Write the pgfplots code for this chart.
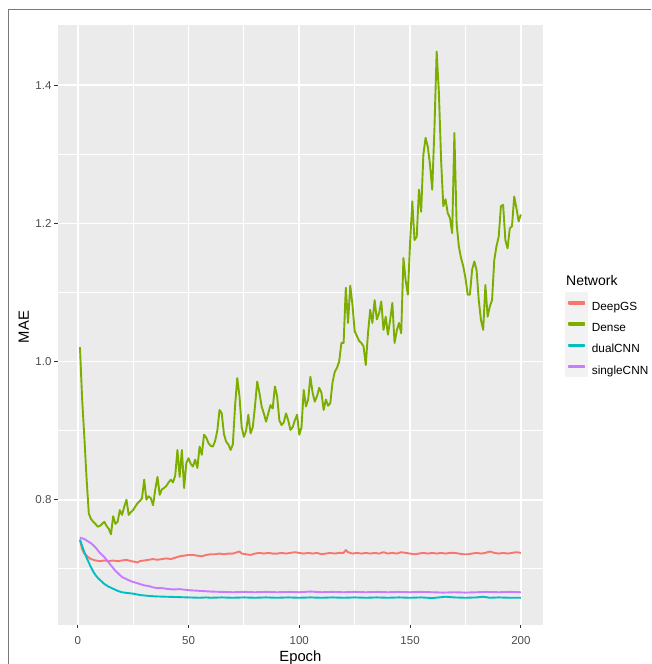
\documentclass[border=0pt]{standalone}
\usepackage{pgfplots}
\pgfplotsset{compat=1.18}
\usepackage{fontspec}
\setmainfont{Liberation Sans}
\definecolor{ggred}{HTML}{F8766D}
\definecolor{gggreen}{HTML}{7CAE00}
\definecolor{ggcyan}{HTML}{00BFC4}
\definecolor{ggpurple}{HTML}{C77CFF}
\definecolor{panelgrey}{HTML}{EBEBEB}
\definecolor{keygrey}{HTML}{F2F2F2}
\definecolor{tickgrey}{HTML}{333333}
\definecolor{labgrey}{HTML}{4D4D4D}
\pgfplotsset{
  ggkey/.style={legend image code/.code={\fill[keygrey] (0pt,-5.7pt) rectangle (21.5pt,13.7pt); \fill[#1] (3pt,3.2pt) rectangle (18.5pt,4.8pt);}}
}
\begin{document}
\begin{tikzpicture}[x=1pt,y=1pt]
\useasboundingbox (0,0) rectangle (651,664);
\begin{axis}[
  at={(57.9pt,39.3pt)}, anchor=south west,
  scale only axis, width=485pt, height=600.1pt,
  xmin=-8.95, xmax=209.95, ymin=0.619, ymax=1.488,
  clip mode=individual,
  axis background/.style={fill=panelgrey},
  axis line style={draw=none},
  xtick={0,50,100,150,200}, minor xtick={25,75,125,175},
  ytick={0.8,1.0,1.2,1.4}, minor ytick={0.7,0.9,1.1,1.3},
  grid=both,
  major grid style={white, line width=1.8pt},
  minor grid style={white, line width=0.9pt},
  tick align=outside, major tick length=3.6pt, minor tick length=0pt,
  tick style={tickgrey, line width=1.1pt},
  xtick pos=bottom, ytick pos=left,
  /pgf/number format/assume math mode=true,
  yticklabel style={/pgf/number format/.cd, fixed, fixed zerofill, precision=1, /tikz/.cd},
  ticklabel style={font=\fontsize{11.5}{13}\selectfont, text=labgrey},
  yticklabel style={anchor=east, inner sep=0pt, xshift=-2.7pt},
  xticklabel style={anchor=north, inner sep=0pt, yshift=-8pt},
  xlabel={Epoch}, ylabel={MAE},
  xlabel style={at={(axis description cs:0.5,-0.062)}, anchor=base, font=\fontsize{14.8}{16}\selectfont, inner sep=0pt},
  ylabel style={at={(axis description cs:-0.0701,0.496)}, anchor=center, font=\fontsize{14.8}{16}\selectfont, inner sep=0pt},
  legend style={at={(axis description cs:1.0456,0.5542)}, anchor=north west, draw=none, fill=none, inner sep=0pt, outer sep=0pt, row sep=0pt, column sep=3.5pt, font=\fontsize{11.8}{13}\selectfont, nodes={inner sep=0pt}},
  legend cell align=left,
  every axis plot/.append style={line width=1.9pt, line join=round},
]
\addplot[draw=ggred, ggkey=ggred] coordinates {
(1,0.742) (2,0.728) (3,0.722) (4,0.719) (5,0.716) (6,0.714) (7,0.713) (8,0.712) (10,0.711) (12,0.712) (14,0.711) (16,0.712) (18,0.711) (20,0.712) (22,0.713) (24,0.711) (26,0.710) (27,0.709) (28,0.711) (30,0.712) (32,0.713) (34,0.714) (36,0.713) (38,0.714) (40,0.715) (42,0.714) (44,0.716) (46,0.718) (48,0.719) (50,0.720) (52,0.720) (54,0.719) (56,0.718) (58,0.720) (60,0.721) (62,0.721) (64,0.722) (66,0.721) (68,0.722) (70,0.722) (72,0.724) (73,0.725) (74,0.722) (76,0.721) (78,0.720) (80,0.722) (82,0.723) (84,0.722) (86,0.723) (88,0.722) (90,0.722) (92,0.723) (94,0.722) (96,0.723) (98,0.724) (100,0.723) (102,0.722) (104,0.723) (106,0.722) (108,0.723) (110,0.721) (112,0.722) (114,0.723) (116,0.722) (118,0.723) (120,0.723) (121,0.727) (122,0.724) (124,0.722) (126,0.723) (128,0.722) (130,0.723) (132,0.722) (134,0.723) (136,0.722) (138,0.724) (140,0.722) (142,0.723) (144,0.722) (146,0.724) (148,0.723) (150,0.722) (152,0.721) (154,0.722) (156,0.723) (158,0.722) (160,0.723) (162,0.722) (164,0.723) (166,0.722) (168,0.723) (170,0.723) (172,0.722) (174,0.721) (176,0.721) (178,0.722) (180,0.723) (182,0.722) (184,0.723) (186,0.725) (188,0.723) (190,0.722) (192,0.723) (194,0.722) (196,0.723) (198,0.724) (200,0.723)
};
\addlegendentry{DeepGS}
\addplot[draw=gggreen, ggkey=gggreen] coordinates {
(1,1.021) (2,0.945) (3,0.890) (4,0.830) (5,0.780) (6,0.772) (7,0.768) (8,0.765) (9,0.761) (10,0.762) (11,0.765) (12,0.768) (13,0.762) (14,0.758) (15,0.750) (16,0.776) (17,0.765) (18,0.768) (19,0.785) (20,0.778) (21,0.790) (22,0.800) (23,0.778) (24,0.782) (25,0.785) (26,0.790) (27,0.795) (28,0.798) (29,0.802) (30,0.829) (31,0.800) (32,0.805) (33,0.802) (34,0.792) (35,0.815) (36,0.833) (37,0.807) (38,0.815) (39,0.817) (40,0.820) (41,0.825) (42,0.829) (43,0.825) (44,0.835) (45,0.872) (46,0.833) (47,0.872) (48,0.817) (49,0.853) (50,0.860) (51,0.852) (52,0.848) (53,0.858) (54,0.846) (55,0.877) (56,0.865) (57,0.894) (58,0.890) (59,0.882) (60,0.878) (61,0.877) (62,0.885) (63,0.900) (64,0.930) (65,0.925) (66,0.895) (67,0.884) (68,0.880) (69,0.872) (70,0.880) (71,0.935) (72,0.976) (73,0.950) (74,0.905) (75,0.891) (76,0.900) (77,0.923) (78,0.896) (79,0.905) (80,0.935) (81,0.971) (82,0.955) (83,0.935) (84,0.925) (85,0.913) (86,0.925) (87,0.937) (88,0.932) (89,0.964) (90,0.950) (91,0.915) (92,0.908) (93,0.912) (94,0.925) (95,0.915) (96,0.901) (97,0.905) (98,0.915) (99,0.923) (100,0.894) (101,0.905) (102,0.959) (103,0.935) (104,0.945) (105,0.978) (106,0.955) (107,0.942) (108,0.950) (109,0.962) (110,0.955) (111,0.930) (112,0.945) (113,0.936) (114,0.940) (115,0.970) (116,0.985) (117,0.991) (118,1.000) (119,1.027) (120,1.027) (121,1.107) (122,1.056) (123,1.110) (124,1.082) (125,1.044) (126,1.037) (127,1.030) (128,1.027) (129,1.022) (130,0.995) (131,1.041) (132,1.075) (133,1.056) (134,1.089) (135,1.061) (136,1.070) (137,1.087) (138,1.046) (139,1.065) (140,1.039) (141,1.060) (142,1.085) (143,1.027) (144,1.045) (145,1.056) (146,1.041) (147,1.150) (148,1.118) (149,1.097) (150,1.172) (151,1.232) (152,1.176) (153,1.181) (154,1.249) (155,1.217) (156,1.300) (157,1.324) (158,1.311) (159,1.285) (160,1.249) (161,1.338) (162,1.449) (163,1.390) (164,1.292) (165,1.225) (166,1.235) (167,1.215) (168,1.208) (169,1.186) (170,1.331) (171,1.200) (172,1.167) (173,1.150) (174,1.138) (175,1.121) (176,1.097) (177,1.097) (178,1.133) (179,1.145) (180,1.133) (181,1.089) (182,1.060) (183,1.046) (184,1.111) (185,1.065) (186,1.080) (187,1.089) (188,1.147) (189,1.167) (190,1.181) (191,1.225) (192,1.227) (193,1.176) (194,1.164) (195,1.193) (196,1.196) (197,1.239) (198,1.222) (199,1.203) (200,1.213)
};
\addlegendentry{Dense}
\addplot[draw=ggcyan, ggkey=ggcyan] coordinates {
(1,0.742) (2,0.733) (3,0.724) (4,0.716) (5,0.709) (6,0.702) (7,0.696) (8,0.691) (9,0.687) (10,0.684) (12,0.678) (14,0.674) (16,0.671) (18,0.668) (20,0.666) (22,0.665) (25,0.664) (28,0.662) (31,0.661) (35,0.660) (40,0.6595) (45,0.659) (50,0.6585) (55,0.658) (58,0.6585) (60,0.658) (65,0.6585) (70,0.658) (75,0.6585) (80,0.658) (85,0.6585) (90,0.658) (95,0.6585) (100,0.658) (105,0.6585) (110,0.658) (115,0.6585) (120,0.658) (125,0.6585) (130,0.658) (135,0.6585) (140,0.658) (145,0.6585) (150,0.658) (155,0.6585) (160,0.6576) (163,0.6585) (166,0.6595) (170,0.6585) (175,0.658) (180,0.6585) (183,0.6595) (186,0.658) (190,0.6585) (195,0.658) (200,0.658)
};
\addlegendentry{dualCNN}
\addplot[draw=ggpurple, ggkey=ggpurple] coordinates {
(1,0.745) (2,0.744) (3,0.743) (4,0.741) (5,0.739) (6,0.737) (7,0.734) (8,0.731) (9,0.727) (10,0.723) (11,0.720) (12,0.717) (13,0.713) (14,0.709) (15,0.705) (16,0.701) (17,0.697) (18,0.694) (19,0.691) (20,0.688) (22,0.685) (24,0.682) (26,0.680) (28,0.678) (30,0.676) (32,0.675) (34,0.673) (36,0.672) (38,0.672) (40,0.671) (43,0.670) (46,0.6705) (50,0.669) (55,0.668) (60,0.667) (65,0.6665) (70,0.666) (75,0.6665) (80,0.666) (85,0.6665) (90,0.666) (95,0.6665) (100,0.666) (105,0.667) (110,0.666) (115,0.6665) (120,0.666) (125,0.6665) (130,0.666) (135,0.6665) (140,0.666) (145,0.6665) (150,0.666) (155,0.6665) (160,0.666) (165,0.6655) (170,0.666) (175,0.6655) (180,0.666) (185,0.6665) (190,0.666) (195,0.6665) (200,0.666)
};
\addlegendentry{singleCNN}
\node[anchor=base west, font=\fontsize{14}{16}\selectfont, inner sep=0pt] at (axis description cs:1.0476,0.5644) {Network};
\end{axis}
\draw[color=gray!95!black, line width=1pt] (8.3,0) -- (8.3,654) -- (651,654);
\end{tikzpicture}
\end{document}
